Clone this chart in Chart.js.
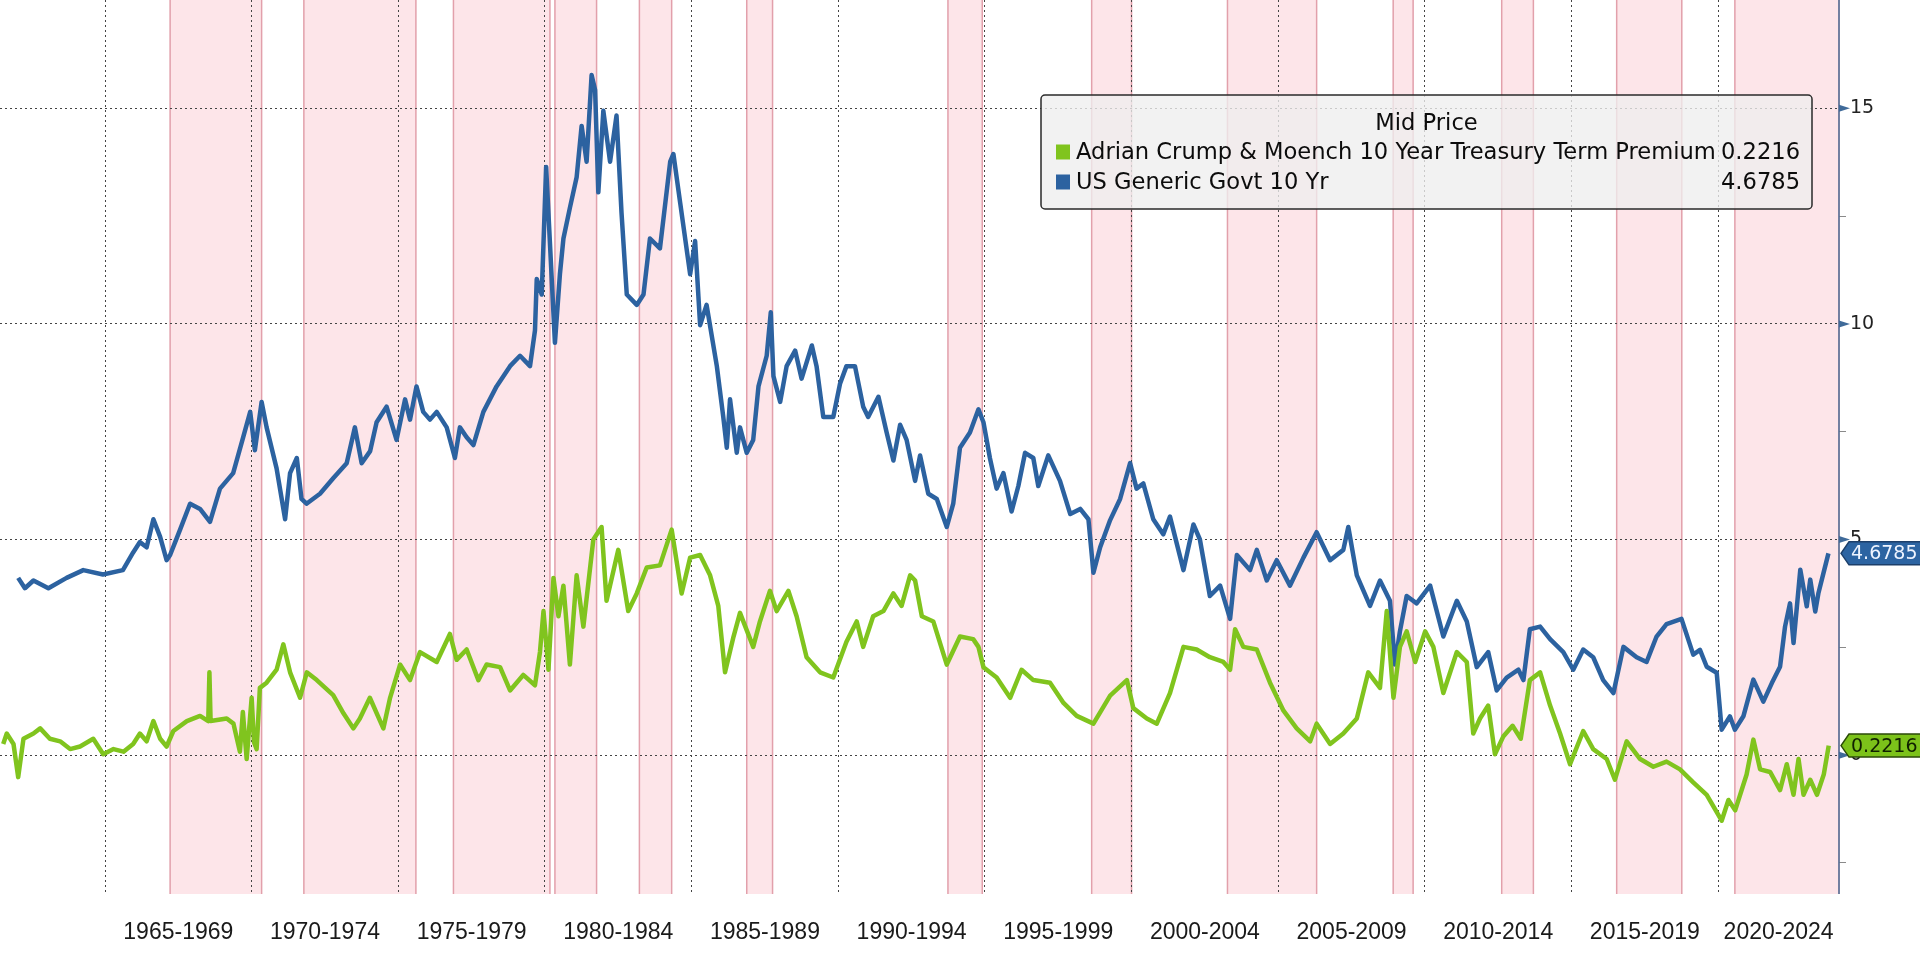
<!DOCTYPE html>
<html>
<head>
  <title>US 10Y vs ACM Term Premium</title>
  <script src="https://cdn.jsdelivr.net/npm/chart.js"></script>
  <style>
    html, body { margin: 0; padding: 0; background: #fff; }
    canvas { display: block; }
  </style>
</head>
<body>
  <canvas id="chart" width="1920" height="963"></canvas>

  <script>
    // ACM 10y term premium (green), decimal years
    const tpYears = [1961.53, 1961.65, 1961.88, 1962.04, 1962.22, 1962.56, 1962.79, 1963.12, 1963.47, 1963.81,
      1964.15, 1964.6, 1964.94, 1965.29, 1965.63, 1965.96, 1966.19, 1966.42, 1966.65, 1966.88,
      1967.1, 1967.33, 1967.79, 1968.24, 1968.52, 1968.56, 1968.6, 1969.15, 1969.38, 1969.6,
      1969.7, 1969.83, 1970.0, 1970.08, 1970.17, 1970.28, 1970.51, 1970.85, 1971.08, 1971.31,
      1971.65, 1971.88, 1972.22, 1972.78, 1973.13, 1973.47, 1973.69, 1974.03, 1974.49, 1974.72,
      1975.06, 1975.4, 1975.74, 1976.31, 1976.76, 1976.99, 1977.33, 1977.73, 1978.01, 1978.47,
      1978.81, 1979.26, 1979.66, 1979.83, 1979.95, 1980.12, 1980.29, 1980.46, 1980.63, 1980.85,
      1981.08, 1981.31, 1981.65, 1981.93, 1982.1, 1982.5, 1982.84, 1983.13, 1983.47, 1983.92,
      1984.32, 1984.66, 1984.95, 1985.29, 1985.63, 1985.91, 1986.14, 1986.43, 1986.65, 1987.1,
      1987.33, 1987.67, 1987.9, 1988.3, 1988.58, 1988.92, 1989.38, 1989.83, 1990.28, 1990.63,
      1990.85, 1991.19, 1991.54, 1991.88, 1992.16, 1992.45, 1992.62, 1992.85, 1993.24, 1993.7,
      1994.15, 1994.6, 1994.78, 1994.95, 1995.4, 1995.86, 1996.25, 1996.65, 1997.22, 1997.68,
      1998.13, 1998.7, 1999.27, 1999.84, 2000.06, 2000.52, 2000.86, 2001.31, 2001.77, 2002.22,
      2002.67, 2003.13, 2003.36, 2003.53, 2003.81, 2004.27, 2004.72, 2005.18, 2005.63, 2006.09,
      2006.31, 2006.77, 2007.22, 2007.68, 2008.07, 2008.47, 2008.7, 2008.93, 2009.15, 2009.38,
      2009.67, 2010.01, 2010.29, 2010.63, 2011.09, 2011.43, 2011.65, 2011.88, 2012.16, 2012.39,
      2012.68, 2012.99, 2013.27, 2013.58, 2013.93, 2014.27, 2014.61, 2014.95, 2015.4, 2015.74,
      2016.2, 2016.48, 2016.88, 2017.34, 2017.79, 2018.24, 2018.7, 2019.15, 2019.61, 2020.12,
      2020.35, 2020.58, 2020.97, 2021.2, 2021.43, 2021.77, 2022.11, 2022.34, 2022.57, 2022.74,
      2022.91, 2023.14, 2023.37, 2023.6, 2023.77];
    const tpValues = [0.26, 0.50, 0.26, -0.51, 0.38, 0.50, 0.62, 0.38, 0.32, 0.14,
      0.20, 0.38, 0.02, 0.14, 0.08, 0.26, 0.50, 0.32, 0.79, 0.38,
      0.20, 0.56, 0.79, 0.91, 0.79, 1.92, 0.79, 0.85, 0.73, 0.08,
      1.00, -0.09, 1.33, 0.30, 0.14, 1.56, 1.68, 1.98, 2.57, 1.92,
      1.33, 1.92, 1.74, 1.39, 0.97, 0.62, 0.85, 1.33, 0.62, 1.33,
      2.10, 1.74, 2.39, 2.16, 2.81, 2.21, 2.45, 1.74, 2.10, 2.04,
      1.50, 1.86, 1.62, 2.39, 3.34, 1.98, 4.11, 3.22, 3.93, 2.10,
      4.17, 2.98, 5.00, 5.29, 3.58, 4.76, 3.34, 3.75, 4.35, 4.40,
      5.23, 3.75, 4.58, 4.64, 4.17, 3.46, 1.92, 2.75, 3.30, 2.51,
      3.10, 3.81, 3.34, 3.81, 3.22, 2.27, 1.92, 1.80, 2.63, 3.10,
      2.51, 3.22, 3.34, 3.75, 3.46, 4.17, 4.05, 3.22, 3.10, 2.10,
      2.75, 2.69, 2.51, 2.04, 1.80, 1.33, 1.98, 1.74, 1.68, 1.21,
      0.91, 0.73, 1.38, 1.74, 1.09, 0.85, 0.73, 1.44, 2.51, 2.45,
      2.27, 2.16, 1.98, 2.92, 2.51, 2.45, 1.68, 1.03, 0.62, 0.32,
      0.73, 0.26, 0.50, 0.85, 1.92, 1.56, 3.34, 1.33, 2.51, 2.87,
      2.16, 2.87, 2.51, 1.44, 2.39, 2.16, 0.50, 0.85, 1.15, 0.02,
      0.44, 0.68, 0.38, 1.74, 1.92, 1.15, 0.50, -0.21, 0.56, 0.14,
      -0.09, -0.57, 0.32, -0.09, -0.27, -0.15, -0.33, -0.63, -0.92, -1.52,
      -1.04, -1.28, -0.45, 0.36, -0.33, -0.39, -0.81, -0.21, -0.92, -0.09,
      -0.92, -0.57, -0.92, -0.45, 0.2216];

    // US generic govt 10y yield (blue)
    const yldYears = [1962.04, 1962.27, 1962.56, 1963.07, 1963.69, 1964.26, 1964.93, 1965.61, 1965.96, 1966.19,
      1966.42, 1966.65, 1966.88, 1967.1, 1967.22, 1967.56, 1967.9, 1968.24, 1968.58, 1968.92,
      1969.37, 1969.71, 1969.95, 1970.11, 1970.34, 1970.51, 1970.85, 1971.14, 1971.31, 1971.54,
      1971.7, 1971.87, 1972.33, 1972.78, 1973.24, 1973.52, 1973.75, 1974.04, 1974.26, 1974.6,
      1974.94, 1975.23, 1975.4, 1975.62, 1975.85, 1976.08, 1976.31, 1976.65, 1976.93, 1977.1,
      1977.33, 1977.56, 1977.9, 1978.35, 1978.81, 1979.15, 1979.49, 1979.66, 1979.72, 1979.89,
      1980.04, 1980.17, 1980.34, 1980.51, 1980.63, 1980.85, 1981.08, 1981.25, 1981.42, 1981.59,
      1981.71, 1981.82, 1981.99, 1982.22, 1982.44, 1982.61, 1982.79, 1983.13, 1983.36, 1983.58,
      1983.92, 1984.27, 1984.38, 1984.61, 1984.95, 1985.12, 1985.29, 1985.51, 1985.86, 1986.08,
      1986.2, 1986.31, 1986.54, 1986.65, 1986.88, 1987.1, 1987.28, 1987.56, 1987.7, 1987.79,
      1988.02, 1988.24, 1988.53, 1988.75, 1989.1, 1989.26, 1989.49, 1989.83, 1990.06, 1990.28,
      1990.57, 1990.85, 1991.02, 1991.37, 1991.65, 1991.88, 1992.11, 1992.33, 1992.62, 1992.79,
      1993.07, 1993.36, 1993.7, 1993.92, 1994.15, 1994.49, 1994.78, 1994.95, 1995.17, 1995.4,
      1995.63, 1995.91, 1996.14, 1996.37, 1996.65, 1996.82, 1997.16, 1997.56, 1997.91, 1998.25,
      1998.53, 1998.7, 1998.93, 1999.27, 1999.61, 1999.95, 2000.17, 2000.4, 2000.74, 2001.08,
      2001.31, 2001.77, 2002.11, 2002.33, 2002.67, 2003.02, 2003.36, 2003.59, 2004.04, 2004.27,
      2004.61, 2004.95, 2005.4, 2005.86, 2006.31, 2006.77, 2007.22, 2007.39, 2007.68, 2008.13,
      2008.47, 2008.81, 2008.98, 2009.15, 2009.38, 2009.72, 2010.18, 2010.63, 2011.09, 2011.43,
      2011.77, 2012.16, 2012.45, 2012.79, 2013.19, 2013.36, 2013.58, 2013.93, 2014.27, 2014.72,
      2015.06, 2015.4, 2015.74, 2016.08, 2016.43, 2016.77, 2017.22, 2017.56, 2017.9, 2018.24,
      2018.75, 2019.15, 2019.38, 2019.61, 2019.95, 2020.12, 2020.4, 2020.57, 2020.86, 2021.2,
      2021.54, 2021.83, 2022.11, 2022.28, 2022.45, 2022.57, 2022.8, 2023.02, 2023.14, 2023.31,
      2023.42, 2023.59, 2023.76];
    const yldValues = [4.11, 3.87, 4.05, 3.87, 4.11, 4.29, 4.19, 4.29, 4.70, 4.94,
      4.82, 5.47, 5.06, 4.52, 4.64, 5.23, 5.83, 5.71, 5.41, 6.18,
      6.54, 7.37, 7.96, 7.07, 8.19, 7.60, 6.65, 5.47, 6.54, 6.89,
      5.94, 5.83, 6.06, 6.42, 6.77, 7.60, 6.77, 7.05, 7.72, 8.08,
      7.31, 8.25, 7.78, 8.55, 7.96, 7.78, 7.96, 7.60, 6.89, 7.60,
      7.37, 7.19, 7.96, 8.55, 9.02, 9.26, 9.02, 9.85, 11.04, 10.68,
      13.64, 11.87, 9.56, 11.15, 11.98, 12.69, 13.40, 14.59, 13.76, 15.77,
      15.42, 13.05, 14.94, 13.76, 14.83, 12.58, 10.68, 10.44, 10.68, 11.98,
      11.75, 13.76, 13.94, 12.81, 11.15, 11.92, 9.97, 10.44, 9.02, 7.84,
      7.13, 8.25, 7.01, 7.60, 7.01, 7.31, 8.55, 9.26, 10.27, 8.79,
      8.19, 9.02, 9.38, 8.73, 9.50, 9.02, 7.84, 7.84, 8.61, 9.02,
      9.02, 8.08, 7.84, 8.31, 7.48, 6.83, 7.66, 7.31, 6.36, 6.95,
      6.06, 5.94, 5.29, 5.83, 7.13, 7.48, 8.02, 7.72, 6.89, 6.18,
      6.54, 5.65, 6.24, 7.01, 6.89, 6.24, 6.95, 6.36, 5.59, 5.71,
      5.47, 4.23, 4.82, 5.45, 5.94, 6.77, 6.18, 6.30, 5.47, 5.12,
      5.53, 4.29, 5.35, 5.00, 3.69, 3.93, 3.16, 4.64, 4.29, 4.76,
      4.05, 4.52, 3.93, 4.58, 5.17, 4.52, 4.76, 5.29, 4.17, 3.46,
      4.05, 3.58, 2.10, 2.87, 3.69, 3.52, 3.93, 2.75, 3.58, 3.10,
      2.04, 2.39, 1.50, 1.80, 1.98, 1.74, 2.92, 2.98, 2.69, 2.39,
      1.98, 2.45, 2.27, 1.74, 1.44, 2.51, 2.27, 2.16, 2.75, 3.04,
      3.16, 2.33, 2.44, 2.05, 1.91, 0.59, 0.90, 0.59, 0.90, 1.75,
      1.24, 1.67, 2.05, 2.98, 3.52, 2.60, 4.30, 3.45, 4.07, 3.33,
      3.76, 4.22, 4.6785];

    // shaded periods
    const bandStarts = [1967.22, 1971.78, 1976.88, 1980.34, 1983.22, 1986.88, 1993.74, 1998.64, 2003.27, 2008.92, 2012.62, 2016.54, 2020.57];
    const bandEnds   = [1970.34, 1975.60, 1980.17, 1981.76, 1984.32, 1987.76, 1994.91, 2000.00, 2006.31, 2009.60, 2013.70, 2018.76, 2024.20];

    const periodStarts = [1965, 1970, 1975, 1980, 1985, 1990, 1995, 2000, 2005, 2010, 2015, 2020];
    const periodLabels = ['1965-1969', '1970-1974', '1975-1979', '1980-1984', '1985-1989', '1990-1994',
      '1995-1999', '2000-2004', '2005-2009', '2010-2014', '2015-2019', '2020-2024'];
    const yTicks = [-2.5, 0, 2.5, 5, 7.5, 10, 12.5, 15];

    const X_MIN = 1961.42, X_MAX = 2024.12;
    const Y_MIN = -3.22, Y_MAX = 17.51;
    const GREEN = '#80c41e', BLUE = '#2c62a0';

    const labelMids = periodStarts.map(s => (s + Math.min(s + 5, X_MAX)) / 2);

    const bandsPlugin = {
      id: 'bands',
      beforeDraw(chart) {
        const { ctx, chartArea: a, scales: { x } } = chart;
        ctx.save();
        ctx.fillStyle = '#fff';
        ctx.fillRect(0, 0, chart.width, chart.height);
        bandStarts.forEach((s, i) => {
          const x1 = x.getPixelForValue(s);
          const x2 = Math.min(x.getPixelForValue(bandEnds[i]), a.right);
          ctx.fillStyle = '#fde5e9';
          ctx.fillRect(x1, a.top, x2 - x1, a.bottom - a.top);
          ctx.strokeStyle = '#e2a0ab';
          ctx.lineWidth = 1.5;
          ctx.beginPath();
          ctx.moveTo(x1, a.top); ctx.lineTo(x1, a.bottom);
          ctx.moveTo(x2, a.top); ctx.lineTo(x2, a.bottom);
          ctx.stroke();
        });
        ctx.restore();
      }
    };

    function drawTag(ctx, x, y, text, fill, stroke, color) {
      ctx.beginPath();
      ctx.moveTo(x + 2, y);
      ctx.lineTo(x + 10, y - 11.5);
      ctx.lineTo(1925, y - 11.5);
      ctx.lineTo(1925, y + 11.5);
      ctx.lineTo(x + 10, y + 11.5);
      ctx.closePath();
      ctx.fillStyle = fill;
      ctx.fill();
      ctx.strokeStyle = stroke;
      ctx.lineWidth = 1.5;
      ctx.stroke();
      ctx.fillStyle = color;
      ctx.font = '19px "DejaVu Sans"';
      ctx.textAlign = 'left';
      ctx.textBaseline = 'middle';
      ctx.fillText(text, x + 12, y + 1);
    }

    const decorPlugin = {
      id: 'decor',
      afterDraw(chart) {
        const { ctx, chartArea: a, scales: { y } } = chart;
        ctx.save();

        // right axis line + arrow ticks
        ctx.strokeStyle = '#4b6f97';
        ctx.lineWidth = 1.5;
        ctx.beginPath();
        ctx.moveTo(a.right, 0);
        ctx.lineTo(a.right, a.bottom);
        ctx.stroke();
        ctx.fillStyle = '#3f6a99';
        yTicks.filter(v => v % 5 === 0).forEach(v => {
          const py = y.getPixelForValue(v);
          ctx.beginPath();
          ctx.moveTo(a.right, py - 3.5);
          ctx.lineTo(a.right + 11, py);
          ctx.lineTo(a.right, py + 3.5);
          ctx.closePath();
          ctx.fill();
        });

        // legend box
        const bx = 1041, by = 95, bw = 771, bh = 114;
        ctx.beginPath();
        ctx.roundRect(bx, by, bw, bh, 4);
        ctx.fillStyle = 'rgba(238,238,238,0.78)';
        ctx.fill();
        ctx.strokeStyle = '#2a2a2a';
        ctx.lineWidth = 1.5;
        ctx.stroke();

        ctx.fillStyle = '#0c0c0c';
        ctx.font = '22.6px "DejaVu Sans"';
        ctx.textBaseline = 'middle';
        ctx.textAlign = 'center';
        ctx.fillText('Mid Price', bx + bw / 2, 124);

        const rows = [152, 182];
        chart.data.datasets.forEach((ds, i) => {
          const ry = rows[i];
          ctx.fillStyle = ds.borderColor;
          ctx.fillRect(1056, ry - 7.5, 14, 15);
          ctx.fillStyle = '#0c0c0c';
          ctx.textAlign = 'left';
          ctx.fillText(ds.label, 1076, ry + 1);
          ctx.textAlign = 'right';
          const last = ds.data[ds.data.length - 1].y;
          ctx.fillText(last.toFixed(4), 1800, ry + 1);
        });

        // last value tags
        const tpLast = tpValues[tpValues.length - 1];
        const yLast = yldValues[yldValues.length - 1];
        drawTag(ctx, a.right, y.getPixelForValue(yLast), yLast.toFixed(4), '#2c64a2', '#1c3f6a', '#eef4ff');
        drawTag(ctx, a.right, y.getPixelForValue(tpLast), tpLast.toFixed(4), '#7cc21a', '#2b4a08', '#102000');

        ctx.restore();
      }
    };

    new Chart(document.getElementById('chart').getContext('2d'), {
      type: 'line',
      data: {
        datasets: [
          {
            label: 'Adrian Crump & Moench 10 Year Treasury Term Premium',
            data: tpYears.map((t, i) => ({ x: t, y: tpValues[i] })),
            borderColor: GREEN,
            borderWidth: 4.5,
            pointRadius: 0,
            tension: 0,
            borderJoinStyle: 'round',
            xAxisID: 'x',
            yAxisID: 'y'
          },
          {
            label: 'US Generic Govt 10 Yr',
            data: yldYears.map((t, i) => ({ x: t, y: yldValues[i] })),
            borderColor: BLUE,
            borderWidth: 4.5,
            pointRadius: 0,
            tension: 0,
            borderJoinStyle: 'round',
            xAxisID: 'x',
            yAxisID: 'y'
          }
        ]
      },
      options: {
        responsive: false,
        animation: false,
        devicePixelRatio: 1,
        layout: { padding: 0 },
        plugins: {
          legend: { display: false },
          tooltip: { enabled: false }
        },
        scales: {
          x: {
            type: 'linear',
            position: 'bottom',
            min: X_MIN,
            max: X_MAX,
            afterBuildTicks: s => { s.ticks = periodStarts.map(v => ({ value: v })); },
            afterFit: s => { s.height = 0; s.paddingLeft = 0; s.paddingRight = 0; },
            ticks: { display: false },
            grid: { color: '#444', lineWidth: 1, drawTicks: false, borderDash: [2, 3] },
            border: { display: false, dash: [2, 3] }
          },
          x2: {
            type: 'linear',
            position: 'bottom',
            min: X_MIN,
            max: X_MAX,
            afterBuildTicks: s => { s.ticks = labelMids.map(v => ({ value: v })); },
            afterFit: s => { s.height = 69; s.paddingLeft = 0; s.paddingRight = 0; },
            grid: { display: false, drawTicks: false },
            border: { display: false },
            ticks: {
              autoSkip: false,
              maxRotation: 0,
              padding: 25,
              color: '#1a1a1a',
              font: { family: 'Liberation Sans', size: 23 },
              callback: (v, i) => periodLabels[i]
            }
          },
          y: {
            type: 'linear',
            position: 'right',
            min: Y_MIN,
            max: Y_MAX,
            afterBuildTicks: s => { s.ticks = yTicks.map(v => ({ value: v })); },
            afterFit: s => { s.width = 81; s.paddingTop = 0; s.paddingBottom = 0; },
            grid: {
              color: c => (c.tick && c.tick.value % 5 === 0) ? '#444' : 'rgba(0,0,0,0)',
              tickColor: c => (c.tick && c.tick.value % 5 === 0) ? 'rgba(0,0,0,0)' : '#8a8a8a',
              tickLength: 7,
              lineWidth: 1,
              borderDash: [2, 3]
            },
            border: { display: false, dash: [2, 3] },
            ticks: {
              padding: 4,
              color: '#222',
              font: { family: 'DejaVu Sans', size: 19 },
              callback: v => (v % 5 === 0 ? String(v) : '')
            }
          }
        }
      },
      plugins: [bandsPlugin, decorPlugin]
    });
  </script>
</body>
</html>
